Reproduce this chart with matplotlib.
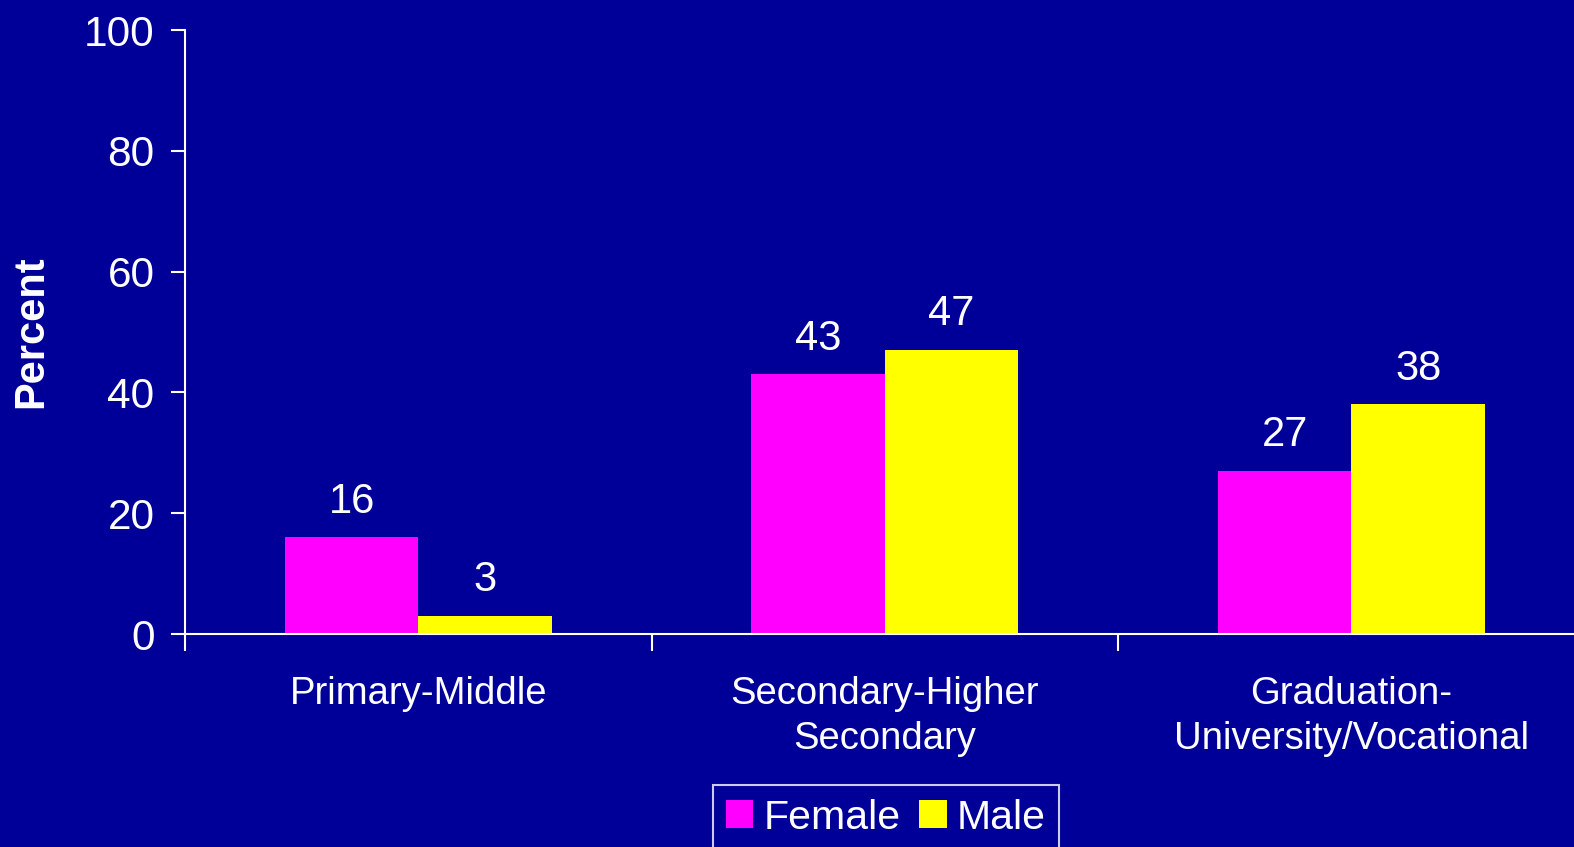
import matplotlib
matplotlib.use("Agg")
import matplotlib.pyplot as plt
import numpy as np

plt.rcParams['font.family'] = ['Liberation Sans', 'DejaVu Sans']

categories = ["Primary-Middle", "Secondary-Higher\nSecondary", "Graduation-\nUniversity/Vocational"]
female = [16, 43, 27]
male = [3, 47, 38]

bg = "#000099"
fig = plt.figure(figsize=(15.74, 8.47), dpi=100, facecolor=bg)
ax = fig.add_axes([185/1574, 213/847, 1 - 185/1574, 604/847], facecolor=bg)

x = np.arange(len(categories))
w = 0.286
b1 = ax.bar(x - w/2, female, w, color="#FF00FF", label="Female")
b2 = ax.bar(x + w/2, male, w, color="#FFFF00", label="Male")

for bars in (b1, b2):
    for r in bars:
        ax.text(r.get_x() + r.get_width()/2, r.get_height() + 2.6, f"{r.get_height():g}",
                ha="center", va="bottom", color="white", fontsize=30)

ax.set_yticks(range(0, 101, 20))
ax.set_xticks([-0.5, 0.5, 1.5], minor=False)
ax.set_xticklabels([])
ax.set_xticks(x, minor=True)
ax.set_xticklabels(categories, minor=True, fontsize=27.5, color="white", linespacing=1.35)
ax.set_ylim(0, 100)
ax.set_xlim(-0.5, 2.477)
ax.tick_params(axis="x", which="minor", length=0, pad=30)
ax.tick_params(axis="x", which="major", length=12, width=1.5, color="white", direction="out")
ax.tick_params(axis="y", length=10, width=1.5, color="white", labelsize=30.5, labelcolor="white", pad=12)

for s in ("top", "right"):
    ax.spines[s].set_visible(False)
for s in ("left", "bottom"):
    ax.spines[s].set_color("white")
    ax.spines[s].set_linewidth(1.5)

ax.set_ylabel("Percent", color="white", fontsize=30, fontweight="bold")
ax.yaxis.set_label_coords(-0.0965, 0.5)

leg = fig.legend(loc="upper center", bbox_to_anchor=(886/1574, 1 - 785/847), ncol=2,
                 fontsize=29.5, frameon=True, fancybox=False, handlelength=0.66, handleheight=0.66,
                 handletextpad=0.25, columnspacing=0.46, borderpad=0.33, borderaxespad=0)
leg.get_frame().set_facecolor(bg)
leg.get_frame().set_edgecolor("white")
leg.get_frame().set_linewidth(1.5)
for t in leg.get_texts():
    t.set_color("white")

fig.savefig("out.png", dpi=100, facecolor=bg)
